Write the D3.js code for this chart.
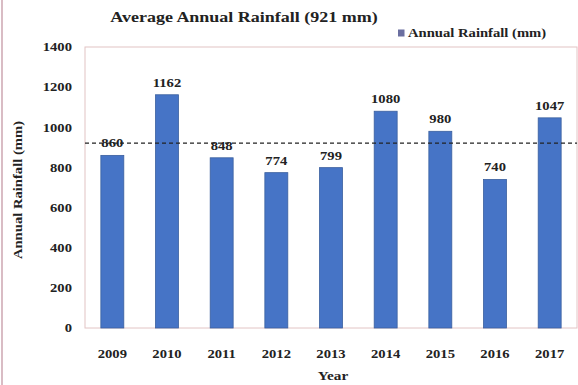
<!DOCTYPE html>
<html><head><meta charset="utf-8">
<script src="https://cdn.jsdelivr.net/npm/d3@7"></script>
<style>body{margin:0;background:#fff;} svg{display:block;} svg text{font-family:"Liberation Serif","Times New Roman","DejaVu Serif",serif !important;font-weight:bold;}</style>
</head><body>
<svg id="c" width="578" height="385"></svg>
<script>
const years = ["2009","2010","2011","2012","2013","2014","2015","2016","2017"];
const rainfall = [860, 1162, 848, 774, 799, 1080, 980, 740, 1047];
const average = 921;
const yTicks = [0, 200, 400, 600, 800, 1000, 1200, 1400];
const titleText = "Average Annual Rainfall (921 mm)";
const legendText = "Annual Rainfall (mm)";
const yTitle = "Annual Rainfall (mm)";
const xTitle = "Year";

const svg = d3.select("#c");
const font = "Liberation Serif";
const SX = 1.22;
const m = {left: 85, right: 577, top: 47, bottom: 328};

// horizontal stretch about each text's anchor point
function stretch(sel, k) {
  sel.each(function() {
    const t = d3.select(this);
    const x0 = +t.attr("x") || 0, y0 = +t.attr("y") || 0;
    t.attr("transform", `translate(${x0},${y0}) scale(${k},1) translate(${-x0},${-y0})`);
  });
}

svg.append("line").attr("x1", 2).attr("x2", 2).attr("y1", 0).attr("y2", 385)
  .attr("stroke", "#d9bcc4").attr("stroke-width", 2);

const x = d3.scaleBand().domain(years).range([m.left, m.right]).paddingInner(0.58).paddingOuter(0.29);
const y = d3.scaleLinear().domain([0, 1400]).range([m.bottom, m.top]);

svg.append("rect").attr("x", m.left).attr("y", m.top)
  .attr("width", m.right - m.left).attr("height", m.bottom - m.top)
  .attr("fill", "none").attr("stroke", "#e2c4c4").attr("stroke-width", 1);

// y axis labels
const yAxis = d3.axisLeft(y).tickValues(yTicks).tickFormat(d3.format("d")).tickSize(0).tickPadding(13);
const gy = svg.append("g").attr("transform", `translate(${m.left},0)`).call(yAxis);
gy.select(".domain").remove();
gy.selectAll("text").attr("font-family", font).attr("font-weight", "bold")
  .attr("font-size", 12).attr("fill", "#222").call(stretch, SX);

// x axis labels
const xAxis = d3.axisBottom(x).tickSize(0).tickPadding(21);
const gx = svg.append("g").attr("transform", `translate(0,${m.bottom})`).call(xAxis);
gx.select(".domain").remove();
gx.selectAll("text").attr("font-family", font).attr("font-weight", "bold")
  .attr("font-size", 12).attr("fill", "#222").call(stretch, SX);

// bars
svg.selectAll("rect.bar").data(rainfall).join("rect").attr("class", "bar")
  .attr("x", (d, i) => x(years[i])).attr("width", x.bandwidth())
  .attr("y", d => y(d)).attr("height", d => y(0) - y(d))
  .attr("fill", "#4674c6").attr("stroke", "#3a5f9e").attr("stroke-width", 0.8);

// average dashed line
svg.append("line").attr("x1", m.left).attr("x2", m.right)
  .attr("y1", y(average)).attr("y2", y(average))
  .attr("stroke", "#222").attr("stroke-width", 1.2).attr("stroke-dasharray", "4,3");

// value labels
svg.selectAll("text.val").data(rainfall).join("text").attr("class", "val")
  .attr("x", (d, i) => x(years[i]) + x.bandwidth() / 2)
  .attr("y", d => y(d) - 8)
  .attr("text-anchor", "middle").attr("font-family", font).attr("font-weight", "bold")
  .attr("font-size", 12).attr("fill", "#222").text(d => d).call(stretch, SX);

// title
svg.append("text").attr("x", 244).attr("y", 22).attr("text-anchor", "middle")
  .attr("font-family", font).attr("font-weight", "bold").attr("font-size", 15)
  .attr("fill", "#222").text(titleText).call(stretch, 1.2);

// legend
svg.append("rect").attr("x", 398).attr("y", 29.5).attr("width", 6.5).attr("height", 7)
  .attr("fill", "#6b6fa0");
svg.append("text").attr("x", 408).attr("y", 37.5).attr("font-family", font)
  .attr("font-weight", "bold").attr("font-size", 12).attr("fill", "#222").text(legendText)
  .call(stretch, SX);

// axis titles
svg.append("text").attr("transform", `translate(22,190) rotate(-90) scale(${SX},1)`)
  .attr("text-anchor", "middle").attr("font-family", font).attr("font-weight", "bold")
  .attr("font-size", 12).attr("fill", "#222").text(yTitle);
svg.append("text").attr("x", 333).attr("y", 380).attr("text-anchor", "middle")
  .attr("font-family", font).attr("font-weight", "bold").attr("font-size", 12.5)
  .attr("fill", "#222").text(xTitle).call(stretch, SX);
</script>
</body></html>
